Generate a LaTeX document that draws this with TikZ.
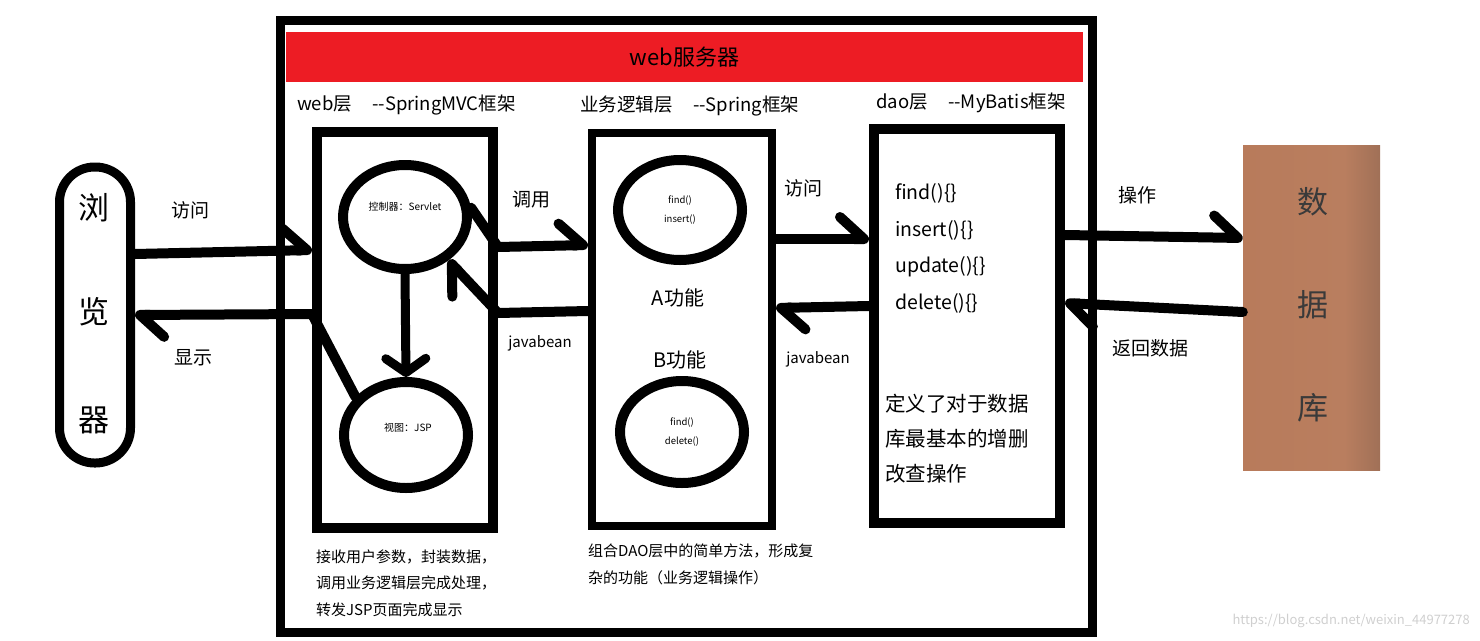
\documentclass[tikz,border=0pt]{standalone}
\usepackage{fontspec}
\setmainfont{Noto Sans CJK SC}
\usetikzlibrary{arrows.meta,shapes.geometric,calc}
\definecolor{bannerred}{HTML}{ED1C24}
\definecolor{dbL}{HTML}{B87B5B}
\definecolor{dbM}{HTML}{B97E5F}
\definecolor{dbR}{HTML}{A07057}
\definecolor{dbtext}{HTML}{3A3A3A}
\definecolor{wmark}{HTML}{CFCFCF}
\pgfdeclarehorizontalshading{dbshade}{100bp}{color(0bp)=(dbL); color(25bp)=(dbL); color(62bp)=(dbM); color(75bp)=(dbR); color(100bp)=(dbR)}
\newcommand\fsz[1]{\fontsize{#1}{#1}\selectfont}
\newcommand\fszb[2]{\fontsize{#1}{#2}\selectfont}
\begin{document}
\begin{tikzpicture}[x=1pt,y=-1pt,
  layerbox/.style={draw, rectangle, inner sep=0pt, line width=10pt},
  oval/.style={draw, ellipse, inner sep=0pt, line width=10pt, align=center},
  conn/.style={line width=10pt, line cap=round, line join=round,
    -{Straight Barb[harpoon,length=24pt,width=44pt,round]}},
  fullconn/.style={line width=9pt, line cap=round, line join=round,
    -{Straight Barb[length=14pt,width=40pt,round]}},
  lbl/.style={inner sep=0pt, font=\fsz{19}},
  small/.style={inner sep=0pt, font=\fsz{15}, anchor=west},
  title/.style={inner sep=0pt, font=\fsz{18.5}, anchor=west},
  bigchar/.style={inner sep=0pt, font=\fsz{31}}
]
\useasboundingbox (0,0) rectangle (1480,640);

% server frame
\node[layerbox, line width=9pt, minimum width=812pt, minimum height=612pt] (server) at (686,326) {};
\node[fill=bannerred, inner sep=0pt, minimum width=797pt, minimum height=50pt, font=\fsz{22}] (banner) at (684.5,57) {web服务器};

% layer titles
\node[title] (webtitle) at (297,105) {web层\hspace{1.1em}-{}-SpringMVC框架};
\node[title] (bizttitle) at (580,106) {业务逻辑层\hspace{1.1em}-{}-Spring框架};
\node[title] (daotitle) at (876,103) {dao层\hspace{1.1em}-{}-MyBatis框架};

% layer boxes
\node[layerbox, minimum width=176pt, minimum height=396pt] (webbox) at (405,330) {};
\node[layerbox, line width=8pt, minimum width=180pt, minimum height=393pt] (logicbox) at (682,329.5) {};
\node[layerbox, minimum width=186pt, minimum height=394pt] (daobox) at (967,326) {};

% browser
\node[draw, rectangle, rounded corners=35pt, line width=9pt, inner sep=0pt,
      minimum width=71pt, minimum height=296pt] (browser) at (95,315) {};
\node[bigchar] (b1) at (94,208) {浏};
\node[bigchar] (b2) at (94,312) {览};
\node[bigchar] (b3) at (94,420) {器};

% database
\node[rectangle, inner sep=0pt, minimum width=137pt, minimum height=325pt,
      shading=dbshade] (db) at (1311.5,307.5) {};
\node[bigchar, text=dbtext, font=\fsz{31}] (d1) at (1313,202) {数};
\node[bigchar, text=dbtext, font=\fsz{31}] (d2) at (1313,305) {据};
\node[bigchar, text=dbtext, font=\fsz{31}] (d3) at (1313,408) {库};

% web layer ellipses
\node[oval, minimum width=124pt, minimum height=104pt] (ctrl) at (405,217) {};
\node[inner sep=0pt, font=\fsz{10}] (ctrltext) at (405,207) {控制器：Servlet};
\node[oval, minimum width=124pt, minimum height=106pt] (view) at (406,435) {};
\node[inner sep=0pt, font=\fsz{10}] (viewtext) at (408,428) {视图：JSP};

% logic layer ellipses
\node[oval, minimum width=124pt, minimum height=100pt, font=\fszb{9.5}{19}] (funA) at (680,210) {find()\\insert()};
\node[lbl, font=\fsz{20}] (labA) at (678,298) {A功能};
\node[lbl, font=\fsz{20}] (labB) at (680,360) {B功能};
\node[oval, minimum width=124pt, minimum height=102pt, font=\fszb{9.5}{19}] (funB) at (682,432) {find()\\delete()};

% dao methods
\node[lbl, anchor=west, font=\fsz{19.5}] (m1) at (895,193) {find()\{\}};
\node[lbl, anchor=west, font=\fsz{19.5}] (m2) at (895,230) {insert()\{\}};
\node[lbl, anchor=west, font=\fsz{19.5}] (m3) at (895,267) {update()\{\}};
\node[lbl, anchor=west, font=\fsz{19.5}] (m4) at (895,303) {delete()\{\}};
\node[lbl, anchor=west, font=\fsz{20.5}] (dd1) at (885,404) {定义了对于数据};
\node[lbl, anchor=west, font=\fsz{20.5}] (dd2) at (885,439) {库最基本的增删};
\node[lbl, anchor=west, font=\fsz{20.5}] (dd3) at (885,474) {改查操作};

% bottom descriptions
\node[small] (w1) at (316,557) {接收用户参数，封装数据，};
\node[small] (w2) at (316,583) {调用业务逻辑层完成处理，};
\node[small] (w3) at (316,610) {转发JSP页面完成显示};
\node[small] (l1) at (588,551) {组合DAO层中的简单方法，形成复};
\node[small] (l2) at (588,578) {杂的功能（业务逻辑操作）};

% connector labels
\node[lbl] (tvisit) at (190,210) {访问};
\node[lbl] (tshow) at (193,358) {显示};
\node[lbl] (tcall) at (531,200) {调用};
\node[lbl, font=\fsz{15}] (tbean1) at (540,343) {javabean};
\node[lbl] (tvisit2) at (803,188) {访问};
\node[lbl, font=\fsz{15}] (tbean2) at (818,359) {javabean};
\node[lbl] (top) at (1137,195) {操作};
\node[lbl] (tret) at (1150,348) {返回数据};

% watermark
\node[inner sep=0pt, text=wmark, font=\fsz{13}, anchor=east] (wm) at (1470,621) {https://blog.csdn.net/weixin\_44977278};

% connectors
\draw[conn] (browser.east |- 0,254) -- (webbox.west |- 0,250);
\draw[conn] (view.143) -- (webbox.west |- 0,314) -- (browser.east |- 0,315);
\draw[fullconn] (ctrl.south) -- (view.north);
\draw[conn] (ctrl.8) -- (webbox.east |- 0,247) -- (logicbox.west |- 0,245);
\draw[conn] (logicbox.west |- 0,311) -- (webbox.east |- 0,313) -- (ctrl.-45);
\draw[conn] (logicbox.east |- 0,239) -- (daobox.west |- 0,239);
\draw[conn] (daobox.west |- 0,306) -- (logicbox.east |- 0,308);
\draw[conn] (daobox.east |- 0,235) -- (db.west |- 0,238);
\draw[conn] (db.west |- 0,312) -- (daobox.east |- 0,303);
\end{tikzpicture}
\end{document}
